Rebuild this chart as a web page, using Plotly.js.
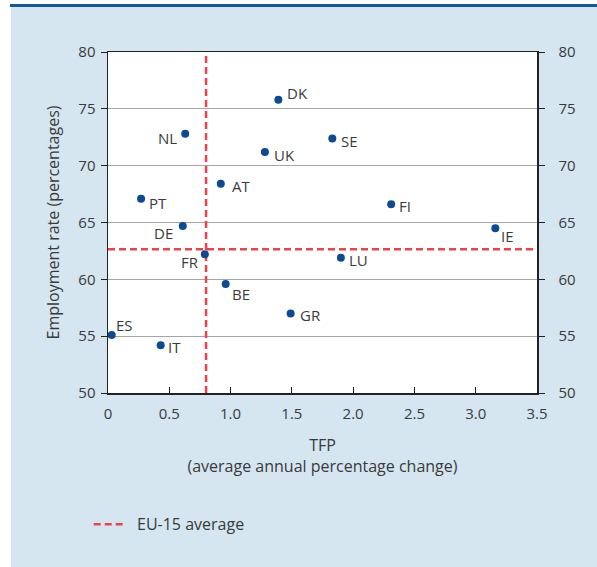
<!DOCTYPE html>
<html>
<head>
<meta charset="utf-8">
<script src="https://cdn.plot.ly/plotly-3.0.1.min.js"></script>
<style>
  html, body { margin: 0; padding: 0; background: #ffffff; }
  #wrap { position: relative; width: 597px; height: 567px; overflow: hidden; }
  #panel { position: absolute; left: 11px; top: 7px; width: 586px; height: 560px; background: #d5e6f0; }
  #topline { position: absolute; left: 10px; top: 4px; width: 587px; height: 3px; background: #1457a3; }
  #chart { position: absolute; left: 0; top: 0; width: 597px; height: 567px; }
</style>
</head>
<body>
<div id="wrap">
  <div id="panel"></div>
  <div id="topline"></div>
  <div id="chart"></div>
</div>
<script>
// Country codes
const countries = ["DK", "NL", "UK", "SE", "AT", "PT", "FI", "IE", "DE", "FR", "BE", "GR", "ES", "IT", "LU"];
// TFP, average annual percentage change
const tfp = [1.39, 0.63, 1.28, 1.83, 0.92, 0.27, 2.31, 3.16, 0.61, 0.79, 0.96, 1.49, 0.03, 0.43, 1.90];
// Employment rate, percentages
const employment = [75.8, 72.8, 71.2, 72.4, 68.4, 67.1, 66.6, 64.5, 64.7, 62.2, 59.6, 57.0, 55.1, 54.2, 61.9];
// EU-15 averages
const euAvgTfp = 0.80;
const euAvgEmployment = 62.65;
const xTicks = [0, 0.5, 1.0, 1.5, 2.0, 2.5, 3.0, 3.5];
const xTickLabels = ["0", "0.5", "1.0", "1.5", "2.0", "2.5", "3.0", "3.5"];
const yTicks = [50, 55, 60, 65, 70, 75, 80];

// label offsets in pixels (layout only)
const labelShift = {
  DK: [19, 7], NL: [-18, -4], UK: [20, -3], SE: [17, -3], AT: [20, -2],
  PT: [17, -4], FI: [14, -2], IE: [12, -8], DE: [-19, -7], FR: [-15, -8],
  BE: [15, -10], GR: [20, -2], ES: [13, 10], IT: [14, -2], LU: [18, -2]
};

const font = "'Open Sans', 'Noto Sans', sans-serif";
const txtColor = "#3a3a3a";
const red = "#ef4149";

const traces = [
  {
    type: "scatter", mode: "lines", name: "\u00a0\u00a0EU-15 average",
    x: [euAvgTfp, euAvgTfp], y: [yTicks[0], yTicks[yTicks.length - 1]],
    line: { color: red, width: 2.5, dash: "7px,4px" },
    hoverinfo: "skip", showlegend: true
  },
  {
    type: "scatter", mode: "lines", name: "EU-15 average",
    x: [xTicks[0], xTicks[xTicks.length - 1]], y: [euAvgEmployment, euAvgEmployment],
    line: { color: red, width: 2.5, dash: "7px,4px" },
    hoverinfo: "skip", showlegend: false
  },
  {
    type: "scatter", mode: "markers", name: "countries",
    x: tfp, y: employment, text: countries,
    marker: { color: "#0d4a93", size: 8 },
    showlegend: false
  },
  {
    type: "scatter", mode: "markers", name: "right axis",
    x: tfp, y: employment, yaxis: "y2",
    marker: { opacity: 0 }, hoverinfo: "skip", showlegend: false
  }
];

const annotations = countries.map((c, i) => ({
  x: tfp[i], y: employment[i], xref: "x", yref: "y",
  text: c, showarrow: false,
  xshift: labelShift[c][0], yshift: labelShift[c][1],
  font: { family: font, size: 15, color: txtColor }
}));

const yAxisBase = {
  range: [50, 80], tickvals: yTicks, ticks: "outside", ticklen: 6, tickcolor: "#222",
  tickfont: { family: font, size: 15, color: txtColor },
  showline: true, linecolor: "#222", linewidth: 1.5, zeroline: false
};

const layout = {
  width: 597, height: 567,
  margin: { l: 108, r: 60, t: 52, b: 174 },
  paper_bgcolor: "rgba(0,0,0,0)",
  plot_bgcolor: "#ffffff",
  font: { family: font, color: txtColor },
  xaxis: {
    range: [0, 3.5], tickvals: xTicks, ticktext: xTickLabels,
    ticks: "inside", ticklen: 6, tickcolor: "#222",
    tickfont: { family: font, size: 15, color: txtColor },
    ticklabelstandoff: 6,
    showline: true, linecolor: "#222", linewidth: 1.5, mirror: true,
    showgrid: false, zeroline: false,
    title: { text: "TFP<br>(average annual percentage change)", font: { family: font, size: 16, color: txtColor }, standoff: 18 }
  },
  yaxis: Object.assign({}, yAxisBase, {
    side: "left", showgrid: true, gridcolor: "#a6a6a6", gridwidth: 1,
    ticklabelstandoff: 2,
    title: { text: "Employment rate (percentages)", font: { family: font, size: 16, color: txtColor }, standoff: 14 }
  }),
  yaxis2: Object.assign({}, yAxisBase, {
    side: "right", overlaying: "y", showgrid: false, ticklabelstandoff: 11
  }),
  showlegend: true,
  legend: {
    x: -0.045, y: -0.335, xanchor: "left", yanchor: "top",
    itemwidth: 30,
    bgcolor: "rgba(0,0,0,0)",
    font: { family: font, size: 16, color: txtColor }
  },
  annotations: annotations
};

Plotly.newPlot("chart", traces, layout, { displayModeBar: false, staticPlot: true });
</script>
</body>
</html>
